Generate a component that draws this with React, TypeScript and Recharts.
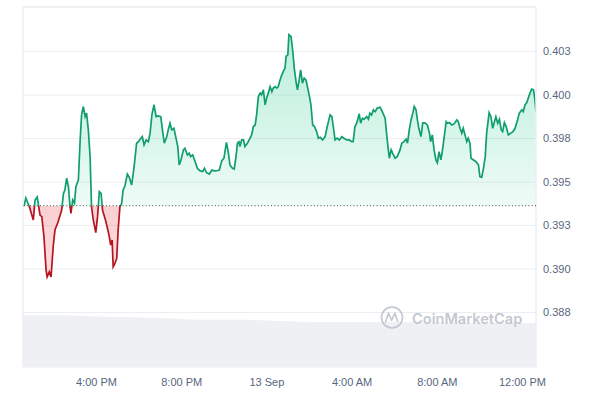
import React from 'react';
import { ComposedChart, Area, XAxis, YAxis, CartesianGrid, ReferenceLine } from 'recharts';

// minutes after 12:00 PM, 12 Sep
const PRICE_TIMES = [
  36, 41, 51, 62, 67, 73, 81, 86, 92, 98, 101, 107, 112, 118, 123, 132, 142, 147, 151, 156,
  161, 165, 168, 173, 178, 182, 189, 194, 198, 203, 208, 212, 217, 222, 226, 231, 238, 243, 248, 253,
  257, 264, 270, 276, 280, 284, 287, 292, 297, 301, 306, 311, 315, 320, 327, 332, 339, 346, 353, 358,
  365, 369, 374, 380, 386, 391, 396, 402, 408, 414, 421, 427, 431, 438, 442, 447, 452, 458, 464, 469,
  473, 478, 485, 489, 496, 501, 505, 511, 518, 524, 532, 539, 544, 550, 558, 565, 571, 579, 586, 593,
  599, 606, 611, 616, 623, 628, 633, 637, 641, 644, 649, 654, 658, 665, 670, 677, 682, 687, 691, 696,
  701, 705, 710, 715, 719, 724, 729, 734, 738, 743, 748, 752, 757, 762, 766, 771, 774, 779, 782, 788,
  793, 797, 802, 806, 811, 815, 820, 825, 830, 834, 840, 844, 849, 854, 860, 865, 870, 877, 884, 890,
  898, 903, 907, 912, 918, 924, 931, 937, 945, 952, 959, 963, 968, 973, 980, 984, 989, 994, 1001, 1006,
  1010, 1015, 1020, 1025, 1031, 1039, 1045, 1053, 1058, 1062, 1065, 1070, 1074, 1081, 1087, 1095, 1100, 1106, 1112, 1116,
  1121, 1126, 1131, 1135, 1140, 1144, 1148, 1154, 1159, 1165, 1172, 1178, 1181, 1186, 1191, 1196, 1200, 1205, 1210, 1214,
  1219, 1225, 1229, 1234, 1241, 1247, 1255, 1259, 1264, 1269, 1273, 1278, 1283, 1287, 1292, 1295, 1302, 1309, 1316, 1320,
  1325, 1330, 1335, 1339, 1346, 1351, 1356, 1361, 1365, 1370, 1375, 1380, 1384, 1389, 1394, 1400, 1407, 1413, 1419, 1426,
  1431, 1438, 1442, 1447, 1452, 1456, 1461, 1466, 1471, 1475, 1478,
];

const PRICES = [
  0.39362, 0.39408, 0.39358, 0.39282, 0.39397, 0.39414, 0.3931, 0.39301, 0.39186, 0.38994,
  0.38955, 0.38984, 0.38955, 0.39128, 0.39224, 0.39272, 0.39339, 0.39435, 0.39454, 0.39522,
  0.39473, 0.39368, 0.3932, 0.39397, 0.39378, 0.39473, 0.39512, 0.39742, 0.39886, 0.39934,
  0.39876, 0.39896, 0.398, 0.39646, 0.39358, 0.39282, 0.39209, 0.39301, 0.39445, 0.39435,
  0.39339, 0.39291, 0.39243, 0.39186, 0.39138, 0.39167, 0.39013, 0.39032, 0.39061, 0.39224,
  0.39358, 0.39378, 0.39454, 0.39477, 0.39546, 0.39529, 0.39483, 0.39588, 0.39723, 0.39732,
  0.39752, 0.39761, 0.39713, 0.39742, 0.39732, 0.39781, 0.39886, 0.39944, 0.39876, 0.3988,
  0.39876, 0.39781, 0.39723, 0.39761, 0.398, 0.39838, 0.398, 0.39809, 0.39752, 0.39704,
  0.39598, 0.39627, 0.39685, 0.39694, 0.39656, 0.39666, 0.39646, 0.39656, 0.39617, 0.39579,
  0.39564, 0.3956, 0.39579, 0.39554, 0.39546, 0.39569, 0.39564, 0.39565, 0.39569, 0.39623,
  0.39637, 0.39728, 0.39675, 0.39598, 0.39579, 0.39575, 0.39646, 0.39723, 0.39732, 0.39704,
  0.39742, 0.39742, 0.39704, 0.39723, 0.39742, 0.39771, 0.39819, 0.39828, 0.39886, 0.39991,
  0.40011, 0.40001, 0.4003, 0.39944, 0.39982, 0.40011, 0.40049, 0.4002, 0.4004, 0.40049,
  0.4004, 0.40049, 0.40087, 0.40116, 0.40135, 0.40155, 0.40222, 0.40231, 0.40347, 0.40337,
  0.4025, 0.40155, 0.40078, 0.4003, 0.40087, 0.40145, 0.40068, 0.40097, 0.40087, 0.40049,
  0.39991, 0.39944, 0.39828, 0.39819, 0.3979, 0.39752, 0.39757, 0.39742, 0.39761, 0.39819,
  0.39886, 0.39876, 0.39819, 0.39742, 0.39752, 0.39742, 0.39761, 0.39752, 0.39742, 0.39742,
  0.39732, 0.39732, 0.39819, 0.39838, 0.39892, 0.39838, 0.39867, 0.39861, 0.39876, 0.39861,
  0.39896, 0.39886, 0.39915, 0.39905, 0.39925, 0.3993, 0.39905, 0.39867, 0.39761, 0.39685,
  0.39637, 0.39685, 0.39666, 0.39637, 0.39646, 0.39685, 0.39723, 0.39732, 0.39746, 0.39723,
  0.398, 0.39857, 0.39896, 0.39934, 0.39915, 0.39857, 0.39809, 0.39761, 0.3984, 0.3984,
  0.39828, 0.39781, 0.39732, 0.39771, 0.39685, 0.39627, 0.39611, 0.39675, 0.39627, 0.39675,
  0.39752, 0.39847, 0.39838, 0.39842, 0.39828, 0.39834, 0.39857, 0.39847, 0.39809, 0.39781,
  0.39809, 0.39771, 0.39732, 0.39752, 0.39723, 0.39637, 0.39627, 0.39617, 0.39598, 0.39531,
  0.39527, 0.39579, 0.39646, 0.39781, 0.39899, 0.39876, 0.39809, 0.39847, 0.39876, 0.39838,
  0.39861, 0.398, 0.3979, 0.39842, 0.39819, 0.39771, 0.39781, 0.3979, 0.39809, 0.39857,
  0.39896, 0.39915, 0.39905, 0.39944, 0.39957, 0.39982, 0.40011, 0.40034, 0.4003, 0.39972,
  0.39905,
];

const VOLUME_TIMES = [33, 137, 194, 306, 419, 532, 644, 757, 870, 1095, 1292, 1478];
const VOLUMES = [14.4, 14.4, 14.2, 13.9, 13.6, 13.1, 13.1, 12.8, 12.5, 12.5, 12.2, 12.2];

const BASELINE = 0.39364;

const X_TICKS = [240, 480, 720, 960, 1200, 1440];
const X_TICK_LABELS = ['4:00 PM', '8:00 PM', '13 Sep', '4:00 AM', '8:00 AM', '12:00 PM'];
const Y_TICKS = [0.3875, 0.39, 0.3925, 0.395, 0.3975, 0.4, 0.4025];
const Y_TICK_LABELS = ['0.388', '0.390', '0.393', '0.395', '0.398', '0.400', '0.403'];

const X_DOMAIN: [number, number] = [33, 1478];
const Y_DOMAIN: [number, number] = [0.38437, 0.40506];
const VOL_DOMAIN: [number, number] = [0, 100];

const priceData = PRICE_TIMES.map((t, i) => ({ t, price: PRICES[i] }));
const volumeData = VOLUME_TIMES.map((t, i) => ({ t, volume: VOLUMES[i] }));

const maxP = Math.max(...PRICES);
const minP = Math.min(...PRICES);
const splitOffset = (maxP - BASELINE) / (maxP - minP);

const GREEN = '#0f9e6c';
const RED = '#b5151f';
const GRID = '#eceef2';
const TICK_STYLE = { fill: '#58667e', fontSize: 11, fontFamily: 'Liberation Sans, Arial, sans-serif' };

const fmtX = (v: number) => {
  const i = X_TICKS.indexOf(v);
  return i >= 0 ? X_TICK_LABELS[i] : '';
};
const fmtY = (v: number) => {
  const i = Y_TICKS.findIndex((x) => Math.abs(x - v) < 1e-9);
  return i >= 0 ? Y_TICK_LABELS[i] : '';
};

export default function App() {
  return (
    <div style={{ position: 'absolute', left: 0, top: 0, width: 600, height: 397 }}>
      <ComposedChart width={600} height={397} margin={{ top: 7, right: 0, left: 23, bottom: 0 }}>
        <defs>
          <linearGradient id="strokeSplit" x1="0" y1="0" x2="0" y2="1">
            <stop offset={0} stopColor={GREEN} />
            <stop offset={splitOffset} stopColor={GREEN} />
            <stop offset={splitOffset} stopColor={RED} />
            <stop offset={1} stopColor={RED} />
          </linearGradient>
          <linearGradient id="fillSplit" x1="0" y1="0" x2="0" y2="1">
            <stop offset={0} stopColor="#16c784" stopOpacity={0.3} />
            <stop offset={splitOffset} stopColor="#16c784" stopOpacity={0.07} />
            <stop offset={splitOffset} stopColor="#ea3943" stopOpacity={0.24} />
            <stop offset={1} stopColor="#ea3943" stopOpacity={0.18} />
          </linearGradient>
        </defs>
        <XAxis
          dataKey="t"
          type="number"
          domain={X_DOMAIN}
          allowDataOverflow
          ticks={X_TICKS}
          tickFormatter={fmtX}
          axisLine={false}
          tickLine={false}
          tickSize={0}
          tickMargin={11}
          height={30}
          tick={TICK_STYLE}
          interval={0}
        />
        <YAxis
          yAxisId="price"
          orientation="right"
          type="number"
          domain={Y_DOMAIN}
          allowDataOverflow
          ticks={Y_TICKS}
          tickFormatter={fmtY}
          axisLine={false}
          tickLine={false}
          tickSize={0}
          tickMargin={7}
          width={64}
          tick={TICK_STYLE}
          interval={0}
        />
        <YAxis yAxisId="vol" hide type="number" domain={VOL_DOMAIN} allowDataOverflow />
        <CartesianGrid yAxisId="price" vertical={false} stroke={GRID} strokeWidth={1} />
        <Area
          yAxisId="vol"
          data={volumeData}
          dataKey="volume"
          type="monotone"
          stroke="none"
          fill="#eef0f3"
          fillOpacity={1}
          isAnimationActive={false}
          dot={false}
          activeDot={false}
        />
        <ReferenceLine yAxisId="price" y={Y_DOMAIN[1]} stroke={GRID} strokeWidth={1.5} />
        <ReferenceLine yAxisId="price" x={X_DOMAIN[0]} stroke={GRID} strokeWidth={1.5} />
        <ReferenceLine yAxisId="price" x={X_DOMAIN[1]} stroke={GRID} strokeWidth={1.5} />
        <Area
          yAxisId="price"
          data={priceData}
          dataKey="price"
          type="linear"
          baseValue={BASELINE}
          stroke="url(#strokeSplit)"
          strokeWidth={1.7}
          fill="url(#fillSplit)"
          fillOpacity={1}
          isAnimationActive={false}
          dot={false}
          activeDot={false}
        />
        <ReferenceLine
          yAxisId="price"
          y={BASELINE}
          stroke="#444"
          strokeWidth={1}
          strokeDasharray="1 2.3"
        />
      </ComposedChart>
      <svg
        width={600}
        height={397}
        style={{ position: 'absolute', left: 0, top: 0, pointerEvents: 'none' }}
      >
        <circle cx={392} cy={317.5} r={10.5} fill="none" stroke="#c3c8d0" strokeWidth={1.6} />
        <path
          d="M385.5 322 L388.6 313 L391.6 320.5 L394.8 313 L397.6 321.5"
          fill="none"
          stroke="#c3c8d0"
          strokeWidth={1.6}
          strokeLinejoin="round"
          strokeLinecap="round"
        />
        <text
          x={412}
          y={324}
          fill="#c3c8d0"
          fontSize={14.6}
          fontWeight={600}
          fontFamily="Inter, 'Noto Sans', sans-serif"
        >
          CoinMarketCap
        </text>
      </svg>
    </div>
  );
}
